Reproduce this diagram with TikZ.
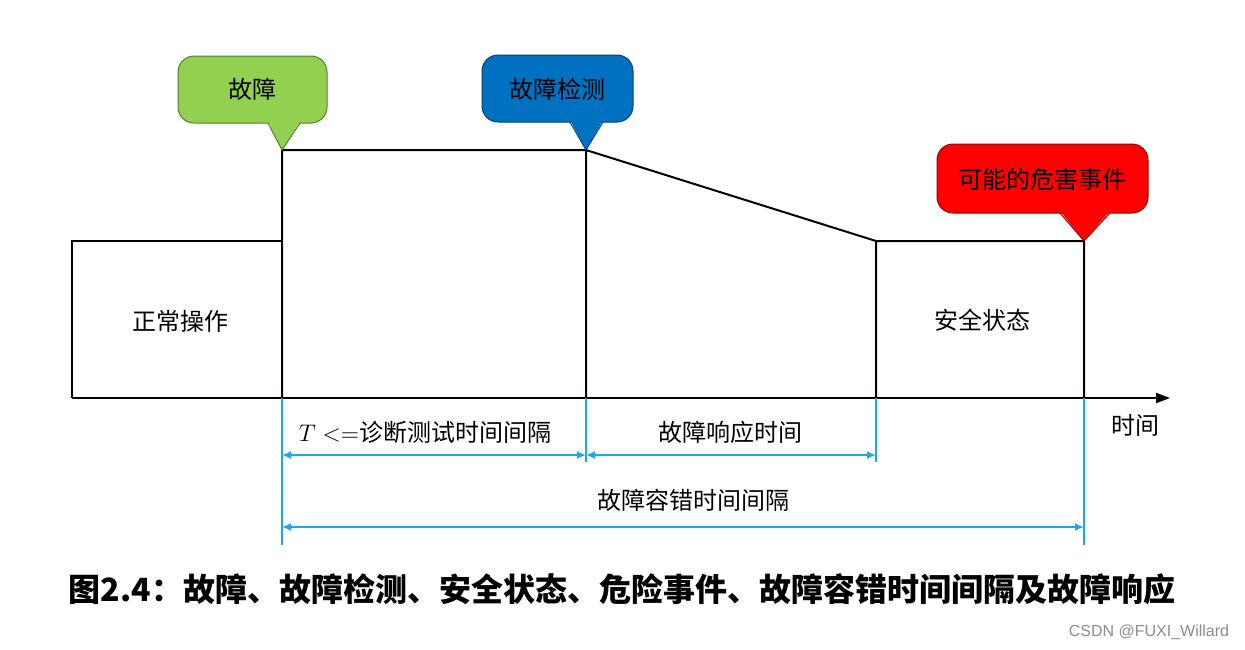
\documentclass[tikz,border=0pt]{standalone}
\usepackage{fontspec}
\newfontfamily\cjk{Noto Sans CJK SC}
\setsansfont{Liberation Sans}
\usetikzlibrary{arrows.meta}
\definecolor{faultgreen}{RGB}{146,208,80}
\definecolor{detectblue}{RGB}{0,112,192}
\definecolor{hazardred}{RGB}{255,0,0}
\definecolor{dimblue}{RGB}{30,167,225}
\tikzset{
  lbl/.style={font=\cjk\fontsize{12}{14}\selectfont},
  outline/.style={line width=1pt},
  dim/.style={dimblue, line width=1pt},
  dimarrow/.style={dim, {Latex[length=4.5pt,width=4pt]}-{Latex[length=4.5pt,width=4pt]}},
  bubble/.style={line width=0.5pt, rounded corners=8},
}
\begin{document}
\begin{tikzpicture}[x=0.5pt,y=-0.5pt]
  \useasboundingbox (0,0) rectangle (1245,649);

  % time line and the states
  \coordinate (o) at (72,398);
  \coordinate (end) at (1170,398);
  \coordinate (n1) at (72,241);
  \coordinate (f0) at (282,398);
  \coordinate (f1) at (282,241);
  \coordinate (f2) at (282,150);
  \coordinate (d0) at (586,398);
  \coordinate (d1) at (586,150);
  \coordinate (s0) at (876,398);
  \coordinate (s1) at (876,241);
  \coordinate (h0) at (1084,398);
  \coordinate (h1) at (1084,241);
  \draw[outline] (o) -- (n1) -- (f1);
  \draw[outline] (f0) -- (f2) -- (d1) -- (s1) -- (h1) -- (h0)
    (d0) -- (d1) (s0) -- (s1);
  \draw[outline, -{Triangle[length=7pt,width=5pt]}] (o) -- (end);

  \node[lbl] (normal) at (180,321) {正常操作};
  \node[lbl] (safe) at (982,320) {安全状态};
  \node[lbl] (time) at (1135,425) {时间};

  % callouts: box, then the pointer laid over its lower edge
  \filldraw[bubble, fill=faultgreen, draw=faultgreen!60!black] (178,56) rectangle (327,123);
  \fill[faultgreen] (268,121) -- (300,121) -- (f2) -- cycle;
  \draw[line width=0.5pt, faultgreen!60!black] (268,123) -- (f2) -- (300,123);
  \filldraw[bubble, fill=detectblue, draw=detectblue!60!black] (482,55) rectangle (633,122);
  \fill[detectblue] (570,120) -- (603,120) -- (d1) -- cycle;
  \draw[line width=0.5pt, detectblue!60!black] (570,122) -- (d1) -- (603,122);
  \filldraw[bubble, fill=hazardred, draw=hazardred!60!black] (937,144) rectangle (1148,213);
  \fill[hazardred] (1060,211) -- (1110,211) -- (h1) -- cycle;
  \draw[line width=0.5pt, hazardred!60!black] (1060,213) -- (h1) -- (1110,213);
  \node[lbl] (fault) at (252,89) {故障};
  \node[lbl] (detect) at (557,89) {故障检测};
  \node[lbl] (hazard) at (1042,179) {可能的危害事件};

  % intervals
  \coordinate (f3) at (282,545);
  \coordinate (d3) at (586,462);
  \coordinate (s3) at (876,462);
  \coordinate (h3) at (1084,545);
  \coordinate (r1) at (0,455);
  \coordinate (r2) at (0,527);
  \draw[dim] (f0) -- (f3) (d0) -- (d3) (s0) -- (s3) (h0) -- (h3);
  \draw[dimarrow] (f0 |- r1) -- (d0 |- r1);
  \draw[dimarrow] (d0 |- r1) -- (s0 |- r1);
  \draw[dimarrow] (f0 |- r2) -- (h0 |- r2);
  \node[lbl] (diag) at (425,432) {$T<=$诊断测试时间间隔};
  \node[lbl] (react) at (730,432) {故障响应时间};
  \node[lbl] (ftti) at (693,500) {故障容错时间间隔};

  \node[font=\cjk\bfseries\fontsize{16}{19}\selectfont] (caption) at (622,589)
    {图2.4：故障、故障检测、安全状态、危险事件、故障容错时间间隔及故障响应};
  \node[font=\sffamily\fontsize{8}{9}\selectfont, text=black!45] (mark) at (1149,632) {CSDN @FUXI\_Willard};
\end{tikzpicture}
\end{document}
